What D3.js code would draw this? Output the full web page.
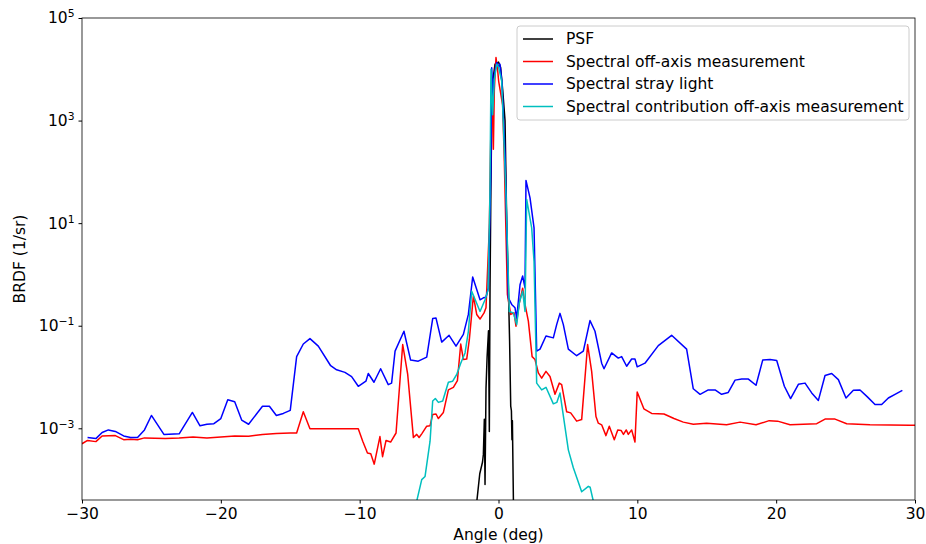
<!DOCTYPE html>
<html>
<head>
<meta charset="utf-8">
<script src="https://cdn.jsdelivr.net/npm/d3@7"></script>
<style>
  body { margin: 0; background: #fff; }
  svg { font-family: "DejaVu Sans", sans-serif; }
</style>
</head>
<body>
<svg width="926" height="544"></svg>
<script>
// angle (deg), BRDF (1/sr)
let psf = [
  [-1.6, 3e-5], [-1.35, 1.3e-4], [-1.15, 2.2e-4], [-1.09, 3.1e-4], [-1.02, 1.5e-3],
  [-0.97, 8e-5], [-0.9, 6e-3], [-0.82, 2.5e-2], [-0.72, 8e-2], [-0.66, 8.7e-4],
  [-0.61, 0.55], [-0.55, 40], [-0.49, 1000], [-0.4, 6300], [-0.25, 1.26e4],
  [0.0, 1.38e4], [0.15, 1.1e4], [0.3, 4000], [0.47, 1000], [0.59, 11],
  [0.71, 0.55], [0.8, 0.05], [0.88, 2.7e-3], [0.93, 2.2e-3], [0.97, 6e-4],
  [1.0, 1.4e-3], [1.08, 3e-5]
]

let offAxis = [
  [-30, 5.0e-4], [-29.6, 5.8e-4], [-29.0, 5.5e-4], [-28.55, 7.1e-4], [-27.6, 7.2e-4],
  [-27.0, 6.0e-4], [-26.5, 6.1e-4], [-26.0, 6.0e-4], [-25.5, 6.5e-4], [-24.0, 6.3e-4],
  [-23.0, 6.5e-4], [-22.0, 6.8e-4], [-21.0, 6.5e-4], [-20.0, 6.8e-4], [-19.0, 7.1e-4],
  [-18.0, 7.0e-4], [-17.0, 7.6e-4], [-16.0, 7.9e-4], [-15.0, 8.1e-4], [-14.54, 8.1e-4],
  [-14.06, 2.1e-3], [-13.58, 9.8e-4], [-12.0, 9.8e-4], [-10.1, 9.8e-4], [-9.78, 5.6e-4],
  [-9.44, 3.3e-4], [-9.2, 3.2e-4], [-8.95, 2.0e-4], [-8.54, 6.9e-4], [-8.35, 2.8e-4],
  [-8.1, 5.8e-4], [-7.77, 5.4e-4], [-7.38, 8.1e-4], [-6.9, 4.3e-2], [-6.54, 1.12e-2],
  [-6.13, 6.6e-4], [-5.89, 7.6e-4], [-5.72, 6.6e-4], [-5.53, 7.8e-4], [-5.17, 1.1e-3],
  [-4.93, 1.12e-3], [-4.74, 1.86e-3], [-4.5, 1.9e-3], [-4.33, 1.55e-3], [-3.97, 2.04e-3],
  [-3.61, 5.6e-3], [-3.25, 6.3e-3], [-2.96, 8.5e-3], [-2.72, 4.4e-2], [-2.53, 2.2e-2],
  [-2.29, 2.24e-2], [-2.1, 5.4e-2], [-1.81, 0.38], [-1.57, 0.166], [-1.33, 0.135],
  [-1.04, 0.178], [-0.9, 0.224], [-0.66, 8.1], [-0.49, 6900], [-0.37, 275],
  [-0.3, 4000], [-0.18, 17000], [-0.05, 8900], [0.01, 5900], [0.3, 2000],
  [0.42, 162], [0.64, 0.41], [0.88, 0.166], [1.12, 0.178], [1.26, 0.098],
  [1.5, 0.275], [1.74, 0.54], [1.91, 0.26], [2.15, 0.123], [2.42, 2.5e-2],
  [2.63, 2.2e-2], [2.87, 1.2e-2], [3.11, 9.5e-3], [3.42, 1.29e-2], [3.71, 1.02e-2],
  [4.07, 4.6e-3], [4.38, 7.6e-3], [4.55, 7.1e-3], [4.91, 2.1e-3], [5.2, 2.0e-3],
  [5.63, 1.38e-3], [5.99, 1.48e-3], [6.42, 4.3e-2], [6.71, 1.29e-2], [7.02, 1.7e-3],
  [7.19, 1.26e-3], [7.43, 1.17e-3], [7.74, 7.2e-4], [7.98, 1.1e-3], [8.34, 6.0e-4],
  [8.59, 9.3e-4], [8.83, 9.1e-4], [9.0, 7.6e-4], [9.2, 9.3e-4], [9.35, 7.6e-4],
  [9.59, 9.3e-4], [9.83, 5.4e-4], [9.99, 5.1e-3], [10.47, 2.4e-3], [11.03, 1.95e-3],
  [11.92, 1.9e-3], [12.64, 1.55e-3], [13.31, 1.32e-3], [14.03, 1.2e-3], [14.99, 1.26e-3],
  [16.43, 1.17e-3], [17.4, 1.32e-3], [18.55, 1.17e-3], [19.5, 1.41e-3], [20.1, 1.38e-3],
  [21.0, 1.17e-3], [22.92, 1.23e-3], [23.52, 1.51e-3], [24.24, 1.51e-3], [25.08, 1.23e-3],
  [26.76, 1.17e-3], [29.64, 1.15e-3], [30, 1.15e-3]
]

let strayLight = [
  [-29.6, 6.6e-4], [-29.0, 6.3e-4], [-28.55, 8.3e-4], [-28.1, 9.3e-4], [-27.6, 8.7e-4],
  [-27.0, 7.1e-4], [-26.5, 6.6e-4], [-26.0, 6.6e-4], [-25.5, 9.3e-4], [-25.0, 1.78e-3],
  [-24.1, 7.6e-4], [-23.0, 7.8e-4], [-22.05, 2.04e-3], [-21.5, 1.12e-3], [-21.0, 1.2e-3],
  [-20.5, 1.23e-3], [-20.0, 1.55e-3], [-19.5, 3.6e-3], [-19.0, 3.3e-3], [-18.5, 1.45e-3],
  [-18.0, 1.2e-3], [-17.0, 2.7e-3], [-16.5, 2.7e-3], [-16.0, 1.78e-3], [-15.5, 1.95e-3],
  [-15.0, 2.24e-3], [-14.54, 2.5e-2], [-14.06, 4.4e-2], [-13.58, 5.6e-2], [-12.98, 4.0e-2],
  [-12.09, 1.66e-2], [-11.66, 1.38e-2], [-11.06, 1.23e-2], [-10.58, 1.02e-2], [-10.1, 6.6e-3],
  [-9.55, 8.3e-3], [-9.38, 1.17e-2], [-8.97, 7.9e-3], [-8.49, 1.45e-2], [-7.94, 7.1e-3],
  [-7.7, 7.6e-3], [-7.45, 3.2e-2], [-6.81, 7.8e-2], [-6.33, 2.14e-2], [-5.78, 2.04e-2],
  [-5.17, 2.45e-2], [-4.74, 0.138], [-4.5, 0.141], [-4.09, 4.8e-2], [-3.56, 6.5e-2],
  [-3.06, 4.0e-2], [-2.53, 6.8e-2], [-2.17, 0.166], [-1.86, 0.89], [-1.33, 0.32],
  [-1.09, 0.35], [-0.9, 0.36], [-0.73, 0.55], [-0.55, 100], [-0.49, 10700],
  [-0.4, 3000], [-0.3, 7900], [-0.13, 13500], [0.0, 11200], [0.1, 12600],
  [0.25, 5600], [0.47, 224], [0.71, 0.35], [0.95, 0.26], [1.19, 0.224],
  [1.31, 0.141], [1.55, 0.63], [1.74, 0.93], [1.91, 0.55], [1.98, 68],
  [2.27, 31], [2.56, 8.1], [2.75, 3.2e-2], [2.99, 3.5e-2], [3.42, 6.3e-2],
  [3.95, 5.8e-2], [4.19, 0.105], [4.43, 0.174], [4.67, 0.105], [5.03, 3.5e-2],
  [5.63, 2.6e-2], [6.11, 3.2e-2], [6.59, 0.126], [6.95, 7.8e-2], [7.43, 1.86e-2],
  [7.6, 1.45e-2], [8.15, 2.95e-2], [8.63, 2.34e-2], [8.87, 2.5e-2], [9.23, 1.62e-2],
  [9.59, 2.24e-2], [9.83, 2.24e-2], [9.99, 1.58e-2], [10.55, 1.86e-2], [11.51, 4.1e-2],
  [12.47, 6.5e-2], [13.55, 3.5e-2], [14.03, 5.9e-3], [14.52, 4.6e-3], [15.11, 5.6e-3],
  [15.6, 5.6e-3], [16.07, 4.6e-3], [16.55, 5.0e-3], [17.04, 8.7e-3], [17.52, 9.1e-3],
  [18.0, 9.1e-3], [18.55, 6.9e-3], [19.03, 2.14e-2], [19.56, 2.2e-2], [20.04, 2.1e-2],
  [20.59, 6.6e-3], [21.04, 3.8e-3], [21.6, 7.2e-3], [22.08, 7.6e-3], [22.56, 4.9e-3],
  [23.04, 3.5e-3], [23.52, 1.07e-2], [24.0, 1.17e-2], [24.48, 8.9e-3], [25.03, 3.9e-3],
  [25.56, 5.5e-3], [26.04, 5.6e-3], [26.57, 4.1e-3], [27.12, 2.9e-3], [27.6, 2.9e-3],
  [28.08, 3.9e-3], [28.56, 4.6e-3], [29.09, 5.5e-3]
]

let contribution = [
  [-6.0, 2e-5], [-5.89, 3.8e-5], [-5.53, 1.0e-4], [-5.29, 1.15e-4], [-4.93, 5.6e-4],
  [-4.74, 3.4e-3], [-4.55, 3.8e-3], [-4.33, 3.2e-3], [-4.02, 3.4e-3], [-3.61, 7.9e-3],
  [-3.3, 8.3e-3], [-3.01, 1.12e-2], [-2.72, 1.86e-2], [-2.41, 2.95e-2], [-2.17, 7.8e-2],
  [-1.93, 0.47], [-1.33, 0.19], [-0.97, 0.32], [-0.75, 0.5], [-0.62, 32],
  [-0.54, 10000], [-0.42, 1300], [-0.3, 6300], [-0.13, 12600], [0.0, 11200],
  [0.23, 5900], [0.54, 36], [0.78, 0.19], [1.07, 0.178], [1.31, 0.105],
  [1.5, 0.28], [1.74, 0.47], [1.91, 0.19], [2.03, 29], [2.39, 8.1],
  [2.56, 1.8], [2.75, 7.6e-3], [3.11, 5.6e-3], [3.42, 6.3e-3], [3.95, 3.0e-3],
  [4.2, 3.2e-3], [4.43, 4.9e-3], [5.03, 3.8e-4], [5.39, 1.7e-4], [5.99, 5.8e-5],
  [6.47, 7.4e-5], [6.6, 7.1e-5], [6.83, 3.8e-5], [7.0, 2e-5]
]

let seriesNames = ['PSF', 'Spectral off-axis measurement', 'Spectral stray light', 'Spectral contribution off-axis measurement']
let seriesColors = ['#000000', '#ff0000', '#0000ff', '#00bfbf']
let xTicks = [-30, -20, -10, 0, 10, 20, 30]
let yTicks = [1e-3, 1e-1, 1e1, 1e3, 1e5]

let margin = { top: 18, right: 11, bottom: 44, left: 82 }
let svgWidth = 926
let svgHeight = 544
let width = svgWidth - margin.left - margin.right
let height = svgHeight - margin.top - margin.bottom
let fontSize = 15.5

let svg = d3.select('svg')
let g = svg.append('g')
  .attr('transform', `translate(${margin.left}, ${margin.top})`)

let x = d3.scaleLinear().domain([-30, 30]).range([0, width])
let y = d3.scaleLog().domain([4e-5, 1e5]).range([height, 0])

g.append('clipPath').attr('id', 'plot-clip')
  .append('rect').attr('width', width).attr('height', height)

let line = d3.line()
  .x(d => x(d[0]))
  .y(d => y(d[1]))

let allSeries = [psf, offAxis, strayLight, contribution]
let lines = g.append('g').attr('clip-path', 'url(#plot-clip)')
allSeries.forEach((data, i) => {
  lines.append('path')
    .datum(data)
    .attr('fill', 'none')
    .attr('stroke', seriesColors[i])
    .attr('stroke-width', 1.5)
    .attr('stroke-linejoin', 'round')
    .attr('d', line)
})

// axes
let xAxis = g.append('g')
  .attr('transform', `translate(0, ${height})`)
  .call(d3.axisBottom(x).tickValues(xTicks).tickSize(3.5).tickPadding(4))
xAxis.select('.domain').remove()
xAxis.selectAll('text').attr('font-size', fontSize).attr('font-family', 'DejaVu Sans').attr('fill', '#000')

let supers = { '-3': '\u22123', '-1': '\u22121', '1': '1', '3': '3', '5': '5' }
let yAxis = g.append('g')
  .call(d3.axisLeft(y).tickValues(yTicks).tickSize(3.5).tickFormat(''))
yAxis.select('.domain').remove()
yAxis.selectAll('.tick').each(function (d) {
  let t = d3.select(this).append('text')
    .attr('x', -7.5)
    .attr('dy', '0.32em')
    .attr('text-anchor', 'end')
    .attr('font-size', fontSize)
    .attr('font-family', 'DejaVu Sans')
    .attr('fill', '#000')
  t.append('tspan').text('10')
  t.append('tspan')
    .attr('font-size', 10.8)
    .attr('dy', -6)
    .text(supers[String(Math.round(Math.log10(d)))])
})

// frame
g.append('rect')
  .attr('width', width).attr('height', height)
  .attr('fill', 'none').attr('stroke', '#000').attr('stroke-width', 0.8)

// axis labels
svg.append('text')
  .attr('x', margin.left + width / 2).attr('y', 540)
  .attr('text-anchor', 'middle').attr('font-size', fontSize)
  .text('Angle (deg)')

svg.append('text')
  .attr('transform', `translate(25, ${margin.top + height / 2}) rotate(-90)`)
  .attr('text-anchor', 'middle').attr('font-size', fontSize)
  .text('BRDF (1/sr)')

// legend
let legend = svg.append('g').attr('transform', 'translate(517, 26)')
legend.append('rect')
  .attr('width', 392).attr('height', 94).attr('rx', 3)
  .attr('fill', '#fff').attr('fill-opacity', 0.8)
  .attr('stroke', '#cccccc').attr('stroke-width', 1)
seriesNames.forEach((name, i) => {
  let yy = 13 + i * 22.5
  legend.append('line')
    .attr('x1', 6).attr('x2', 36).attr('y1', yy).attr('y2', yy)
    .attr('stroke', seriesColors[i]).attr('stroke-width', 1.5)
  legend.append('text')
    .attr('x', 49).attr('y', yy).attr('dy', '0.35em')
    .attr('font-size', fontSize)
    .text(name)
})
</script>
</body>
</html>
